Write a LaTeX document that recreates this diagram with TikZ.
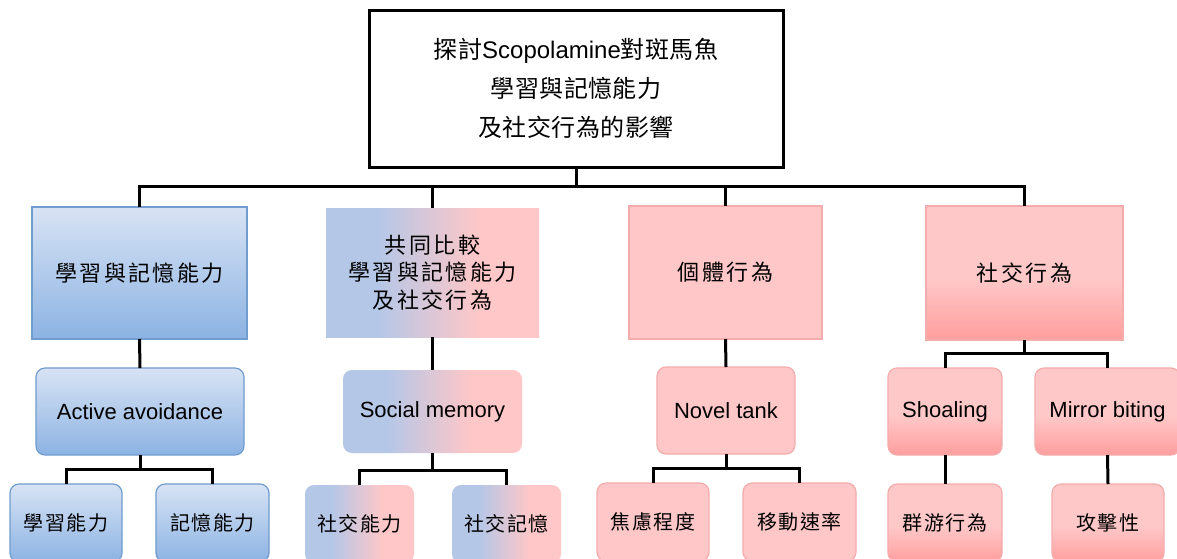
\documentclass[tikz,border=0pt]{standalone}
\usepackage{fontspec}
\setmainfont{Liberation Sans}
\newfontfamily\cjkT[LetterSpace=2]{Noto Sans CJK TC}
\newfontfamily\cjkM[LetterSpace=11]{Noto Sans CJK TC}
\newfontfamily\cjkS[LetterSpace=8]{Noto Sans CJK TC}
\definecolor{blueTop}{RGB}{216,227,244}
\definecolor{blueBot}{RGB}{140,179,227}
\definecolor{blueBorder}{RGB}{112,156,206}
\definecolor{mixL}{RGB}{180,199,231}
\definecolor{mixR}{RGB}{255,199,199}
\definecolor{pinkFlat}{RGB}{255,199,199}
\definecolor{pinkBorder}{RGB}{244,172,172}
\definecolor{pinkTop}{RGB}{255,200,200}
\definecolor{pinkBot}{RGB}{255,158,158}
\pgfdeclarehorizontalshading{bluepink}{100bp}{color(0bp)=(mixL); color(37bp)=(mixL); color(61bp)=(mixR); color(100bp)=(mixR)}
\pgfdeclareverticalshading{pinkdown}{100bp}{color(0bp)=(pinkBot); color(25bp)=(pinkBot); color(48bp)=(pinkTop); color(100bp)=(pinkTop)}
\tikzset{
  conn/.style={draw=black, line width=3pt},
  boxbase/.style={inner sep=0pt, outer sep=0pt, align=center, text=black},
  topbox/.style={boxbase, draw=black, line width=3pt, fill=white,
    font=\fontsize{24}{39}\selectfont},
  bluebox/.style={boxbase, draw=blueBorder, line width=1.2pt, top color=blueTop, bottom color=blueBot},
  mixbox/.style={boxbase, shading=bluepink},
  pinkbox/.style={boxbase, draw=pinkBorder, line width=1.2pt, fill=pinkFlat},
  socbox/.style={boxbase, draw=pinkBorder, line width=1.2pt, shading=pinkdown},
  lvtwo/.style={font=\fontsize{22}{27.5}\selectfont\cjkM},
  lvthree/.style={rounded corners=9pt, font=\fontsize{22}{26}\selectfont},
  leaf/.style={rounded corners=9pt, minimum height=78pt, font=\fontsize{20}{22}\selectfont\cjkS},
}
\begin{document}
\begin{tikzpicture}[x=1pt, y=-1pt]
\useasboundingbox (0,0) rectangle (1177,558);
\clip (0,0) rectangle (1177,558);
\fill[white] (0,0) rectangle (1177,558);

% top
\node[topbox, minimum width=414pt, minimum height=157pt] (top) at (576,88.5)
  {{\cjkT 探討}Scopolamine{\cjkT 對斑馬魚}\\{\cjkT 學習與記憶能力}\\{\cjkT 及社交行為的影響}};

% level 2
\node[bluebox, lvtwo, minimum width=215pt, minimum height=132pt] (b1) at (139.5,273) {學習與記憶能力};
\node[mixbox, lvtwo, minimum width=213pt, minimum height=129pt] (b2) at (432.5,272.5) {共同比較\\學習與記憶能力\\及社交行為};
\node[pinkbox, lvtwo, minimum width=193pt, minimum height=133pt] (b3) at (725.5,272.5) {個體行為};
\node[socbox, lvtwo, minimum width=197pt, minimum height=134pt] (b4) at (1024.5,273) {社交行為};

% level 3
\node[bluebox, lvthree, minimum width=208pt, minimum height=87pt] (c1) at (140,411.5) {Active avoidance};
\node[mixbox, lvthree, minimum width=179pt, minimum height=83pt] (c2) at (432.5,411.5) {Social memory};
\node[pinkbox, lvthree, minimum width=138pt, minimum height=87pt] (c3) at (726,410.5) {Novel tank};
\node[socbox, lvthree, minimum width=114pt, minimum height=87pt] (c4) at (945,411.5) {Shoaling};
\node[socbox, lvthree, minimum width=145pt, minimum height=87pt] (c5) at (1107.5,411.5) {Mirror biting};

% level 4
\node[bluebox, leaf, minimum width=112pt] (d1) at (66,523) {學習能力};
\node[bluebox, leaf, minimum width=113pt] (d2) at (212.5,523) {記憶能力};
\node[mixbox, leaf, minimum width=109pt] (d3) at (359.5,524) {社交能力};
\node[mixbox, leaf, minimum width=109pt] (d4) at (506.5,524) {社交記憶};
\node[pinkbox, leaf, minimum width=112pt] (d5) at (653,522) {焦慮程度};
\node[pinkbox, leaf, minimum width=113pt] (d6) at (799.5,522) {移動速率};
\node[socbox, leaf, minimum width=114pt] (d7) at (945,523) {群游行為};
\node[socbox, leaf, minimum width=112pt] (d8) at (1108,523) {攻擊性};

% junctions
\coordinate (j0) at (576,186.5);
\coordinate (j1) at (140,469);
\coordinate (j2) at (432.5,470);
\coordinate (j3) at (726,468);
\coordinate (j4) at (1024.5,353);

% connectors
\draw[conn] (top.south) -- (j0);
\draw[conn] (b1.north) |- (j0);
\draw[conn] (b2.north) |- (j0);
\draw[conn] (b3.north) |- (j0);
\draw[conn] (b4.north) |- (j0);

\draw[conn] (b1.south) -- (c1.north);
\draw[conn] (b2.south) -- (c2.north);
\draw[conn] (b3.south) -- (c3.north);
\draw[conn] (b4.south) -- (j4);
\draw[conn] (c4.north) |- (j4);
\draw[conn] (c5.north) |- (j4);

\draw[conn] (c1.south) -- (j1);
\draw[conn] (d1.north) |- (j1);
\draw[conn] (d2.north) |- (j1);
\draw[conn] (c2.south) -- (j2);
\draw[conn] (d3.north) |- (j2);
\draw[conn] (d4.north) |- (j2);
\draw[conn] (c3.south) -- (j3);
\draw[conn] (d5.north) |- (j3);
\draw[conn] (d6.north) |- (j3);
\draw[conn] (c4.south) -- (d7.north);
\draw[conn] (c5.south) -- (d8.north);
\end{tikzpicture}
\end{document}
